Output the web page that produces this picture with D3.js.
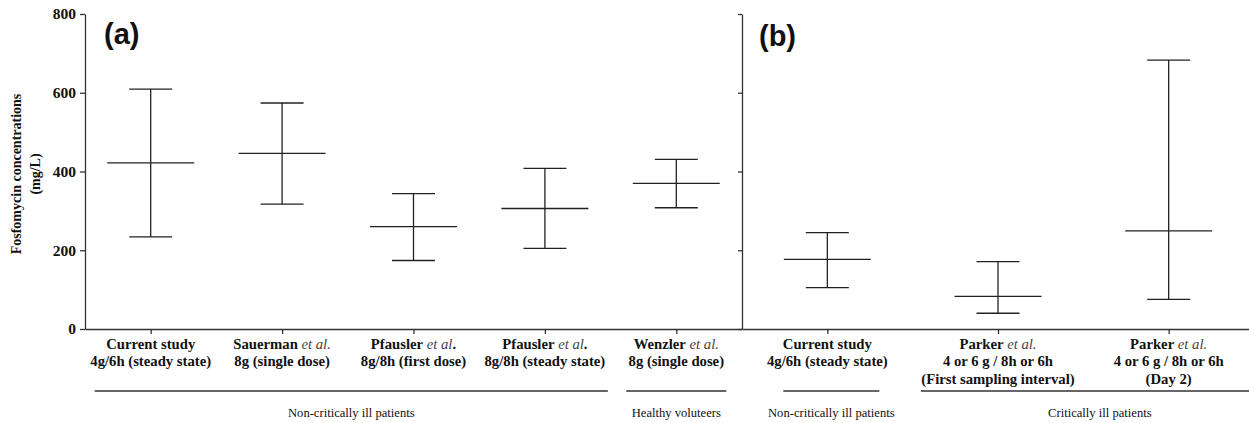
<!DOCTYPE html>
<html>
<head>
<meta charset="utf-8">
<script src="https://cdn.jsdelivr.net/npm/d3@7"></script>
<style>
  body { margin: 0; background: #fff; }
  svg { display: block; }
</style>
</head>
<body>
<script>
// panel (a)
const namesA = ["Current study", "Sauerman", "Pfausler", "Pfausler", "Wenzler"];
const etalA = ["", "et al.", "et al", "et al", "et al."];
const punctA = ["", "", ".", ".", ""];
const doseA = [["4g/6h (steady state)"], ["8g (single dose)"], ["8g/8h (first dose)"], ["8g/8h (steady state)"], ["8g (single dose)"]];
const meanA = [422, 446, 260, 306, 370];
const lowA = [234, 317, 174, 205, 308];
const highA = [609, 574, 344, 408, 431];

// panel (b)
const namesB = ["Current study", "Parker", "Parker"];
const etalB = ["", "et al.", "et al."];
const punctB = ["", "", ""];
const doseB = [["4g/6h (steady state)"], ["4 or 6 g / 8h or 6h", "(First sampling interval)"], ["4 or 6 g / 8h or 6h", "(Day 2)"]];
const meanB = [177, 83, 249];
const lowB = [105, 40, 75];
const highB = [245, 171, 683];

const yTicks = [0, 200, 400, 600, 800];

// groups: [panel, first index, last index]
const groupNames = ["Non-critically ill patients", "Healthy voluteers", "Non-critically ill patients", "Critically ill patients"];
const groupPanel = ["a", "a", "b", "b"];
const groupFirst = [0, 4, 0, 1];
const groupLast = [3, 4, 0, 2];

const w = 1249;
const h = 423;
const serif = "'Liberation Serif', 'Times New Roman', serif";
const ink = "#222";

let svg = d3.select("body")
            .append("svg")
            .attr("width", w)
            .attr("height", h);

let y = d3.scaleLinear().domain([0, 800]).range([329, 14]);
let xA = d3.scalePoint().domain(d3.range(namesA.length)).range([85, 742]).padding(0.5);
let xB = d3.scalePoint().domain(d3.range(namesB.length)).range([742, 1254]).padding(0.5);

// y axis (a) with labels
let yAxis = svg.append("g")
    .attr("transform", "translate(85,0)")
    .call(d3.axisLeft(y).tickValues(yTicks).tickSize(5).tickSizeOuter(0));
yAxis.selectAll("text")
    .attr("font-family", serif)
    .attr("font-weight", "bold")
    .attr("font-size", "15.5px")
    .attr("fill", "#111")
    .attr("dx", "-1");

// y axis (b) without labels
svg.append("g")
    .attr("transform", "translate(742,0)")
    .call(d3.axisLeft(y).tickValues(yTicks).tickSize(4).tickSizeOuter(0).tickFormat(""));

// x axes
svg.append("g")
    .attr("transform", "translate(0,329)")
    .call(d3.axisBottom(xA).tickSize(5).tickSizeOuter(0).tickFormat(""));
svg.append("g")
    .attr("transform", "translate(0,329)")
    .call(d3.axisBottom(xB).tickSize(5).tickSizeOuter(0).tickFormat(""));

svg.selectAll(".domain, .tick line").attr("stroke", "#333").attr("stroke-width", 1.3);

// y title
let yt = svg.append("text")
    .attr("transform", "translate(21,174) rotate(-90)")
    .attr("text-anchor", "middle")
    .attr("font-family", serif)
    .attr("font-weight", "bold")
    .attr("font-size", "14px")
    .attr("fill", "#111");
yt.append("tspan").attr("x", 0).attr("y", 0).text("Fosfomycin concentrations");
yt.append("tspan").attr("x", 0).attr("y", 19).text("(mg/L)");

// panel letters
svg.append("text").attr("x", 104).attr("y", 44)
    .attr("font-family", "'Liberation Sans', Arial, sans-serif")
    .attr("font-weight", "bold").attr("font-size", "29px").attr("fill", "#111")
    .text("(a)");
svg.append("text").attr("x", 759).attr("y", 46)
    .attr("font-family", "'Liberation Sans', Arial, sans-serif")
    .attr("font-weight", "bold").attr("font-size", "29px").attr("fill", "#111")
    .text("(b)");

function drawPanel(x, mean, low, high, names, etal, punct, dose) {
    let g = svg.append("g");
    let d = d3.range(mean.length);
    // whiskers
    g.selectAll(".vert").data(d).enter().append("line")
        .attr("x1", i => x(i)).attr("x2", i => x(i))
        .attr("y1", i => y(low[i])).attr("y2", i => y(high[i]))
        .attr("stroke", ink).attr("stroke-width", 1.3);
    g.selectAll(".capHi").data(d).enter().append("line")
        .attr("x1", i => x(i) - 21.5).attr("x2", i => x(i) + 21.5)
        .attr("y1", i => y(high[i])).attr("y2", i => y(high[i]))
        .attr("stroke", ink).attr("stroke-width", 1.3);
    g.selectAll(".capLo").data(d).enter().append("line")
        .attr("x1", i => x(i) - 21.5).attr("x2", i => x(i) + 21.5)
        .attr("y1", i => y(low[i])).attr("y2", i => y(low[i]))
        .attr("stroke", ink).attr("stroke-width", 1.3);
    g.selectAll(".mean").data(d).enter().append("line")
        .attr("x1", i => x(i) - 43.5).attr("x2", i => x(i) + 43.5)
        .attr("y1", i => y(mean[i])).attr("y2", i => y(mean[i]))
        .attr("stroke", ink).attr("stroke-width", 1.3);

    // category labels
    d.forEach(i => {
        let t = g.append("text")
            .attr("text-anchor", "middle")
            .attr("font-family", serif)
            .attr("font-weight", "bold")
            .attr("font-size", "14.7px")
            .attr("fill", "#111");
        t.append("tspan").attr("x", x(i)).attr("y", 349).text(names[i]);
        if (etal[i]) {
            t.append("tspan").attr("font-style", "italic").attr("font-weight", "normal")
                .attr("fill", "#444").text(" " + etal[i]);
        }
        if (punct[i]) t.append("tspan").text(punct[i]);
        dose[i].forEach((line, k) => {
            t.append("tspan").attr("x", x(i)).attr("y", 366 + k * 17.5).text(line);
        });
    });
}

drawPanel(xA, meanA, lowA, highA, namesA, etalA, punctA, doseA);
drawPanel(xB, meanB, lowB, highB, namesB, etalB, punctB, doseB);

// group brackets
const groupPad = [[56, 63], [50, 50], [44, 52], [77, 110]];
groupNames.forEach((name, k) => {
    let x = groupPanel[k] == "a" ? xA : xB;
    let x1 = x(groupFirst[k]) - groupPad[k][0];
    let x2 = x(groupLast[k]) + groupPad[k][1];
    svg.append("line")
        .attr("x1", x1).attr("x2", x2).attr("y1", 391).attr("y2", 391)
        .attr("stroke", "#333").attr("stroke-width", 1.3);
    svg.append("text")
        .attr("x", (x1 + x2) / 2).attr("y", 417)
        .attr("text-anchor", "middle")
        .attr("font-family", serif)
        .attr("font-size", "12.6px")
        .attr("fill", "#111")
        .text(name);
});
</script>
</body>
</html>
